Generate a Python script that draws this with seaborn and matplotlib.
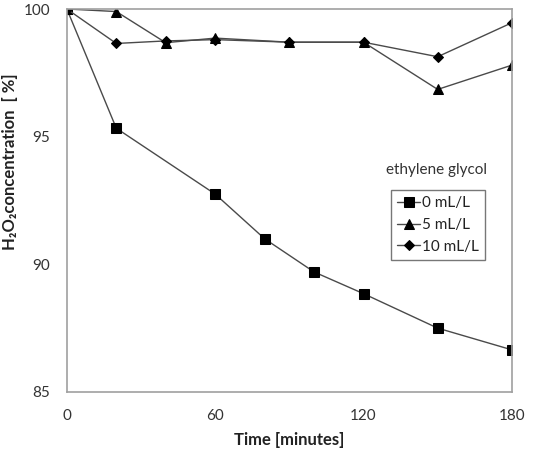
import matplotlib
matplotlib.use("Agg")
import matplotlib.pyplot as plt
import pandas as pd
import seaborn as sns

time = [0, 20, 40, 60, 90, 120, 150, 180]
time_0 = [0, 20, 60, 80, 100, 120, 150, 180]
conc_0 = [100.0, 95.33, 92.75, 91.0, 89.7, 88.85, 87.5, 86.65]
conc_5 = [100.0, 99.9, 98.68, 98.86, 98.7, 98.7, 96.85, 97.8]
conc_10 = [100.0, 98.65, 98.75, 98.8, 98.7, 98.7, 98.13, 99.46]
labels = ["0 mL/L", "5 mL/L", "10 mL/L"]
markers = ["s", "^", "D"]

df = pd.concat([
    pd.DataFrame({"time": time_0, "conc": conc_0, "series": labels[0]}),
    pd.DataFrame({"time": time, "conc": conc_5, "series": labels[1]}),
    pd.DataFrame({"time": time, "conc": conc_10, "series": labels[2]}),
])

sns.set_style("white")
plt.rcParams["font.family"] = ["Lato", "DejaVu Sans"]

fig = plt.figure(figsize=(5.48, 4.5), dpi=100)
ax = fig.add_axes([0.122, 0.129, 0.812, 0.851])

for lab, mk in zip(labels, markers):
    sub = df[df["series"] == lab]
    sns.lineplot(
        data=sub, x="time", y="conc", ax=ax, label=lab,
        color="#4a4a4a", linewidth=1.0, marker=mk,
        markersize=7 if mk != "D" else 5.5,
        markerfacecolor="black", markeredgecolor="black",
        sort=False,
    )

ax.set_xlim(0, 180)
ax.set_ylim(85, 100)
ax.set_xticks([0, 60, 120, 180])
ax.set_yticks([85, 90, 95, 100])
ax.tick_params(axis="both", labelsize=11, colors="#333333",
               length=4, width=0.8, direction="out", pad=8)
ax.tick_params(axis="both", color="#999999")
for s in ax.spines.values():
    s.set_color("#a0a0a0")
    s.set_linewidth(1.2)

ax.set_xlabel("Time [minutes]", fontsize=12, fontweight="bold", color="#222222")
ax.xaxis.set_label_coords(0.5, -0.104)
ax.set_ylabel("H\u2082O\u2082concentration  [ %]", fontsize=12,
              fontweight="bold", color="#222222")
ax.yaxis.set_label_coords(-0.11, 0.6)

ax.text(0.831, 0.58, "ethylene glycol", transform=ax.transAxes,
        ha="center", va="center", fontsize=11, color="#333333")
leg = ax.legend(loc="upper right", bbox_to_anchor=(0.939, 0.527),
                frameon=True, fancybox=False, fontsize=11,
                handlelength=1.5, handletextpad=0.1, borderpad=0.4,
                labelspacing=0.5, borderaxespad=0)
leg.get_frame().set_edgecolor("#555555")
leg.get_frame().set_linewidth(1.0)
for t in leg.get_texts():
    t.set_color("#222222")

fig.savefig("out.png", dpi=100)
